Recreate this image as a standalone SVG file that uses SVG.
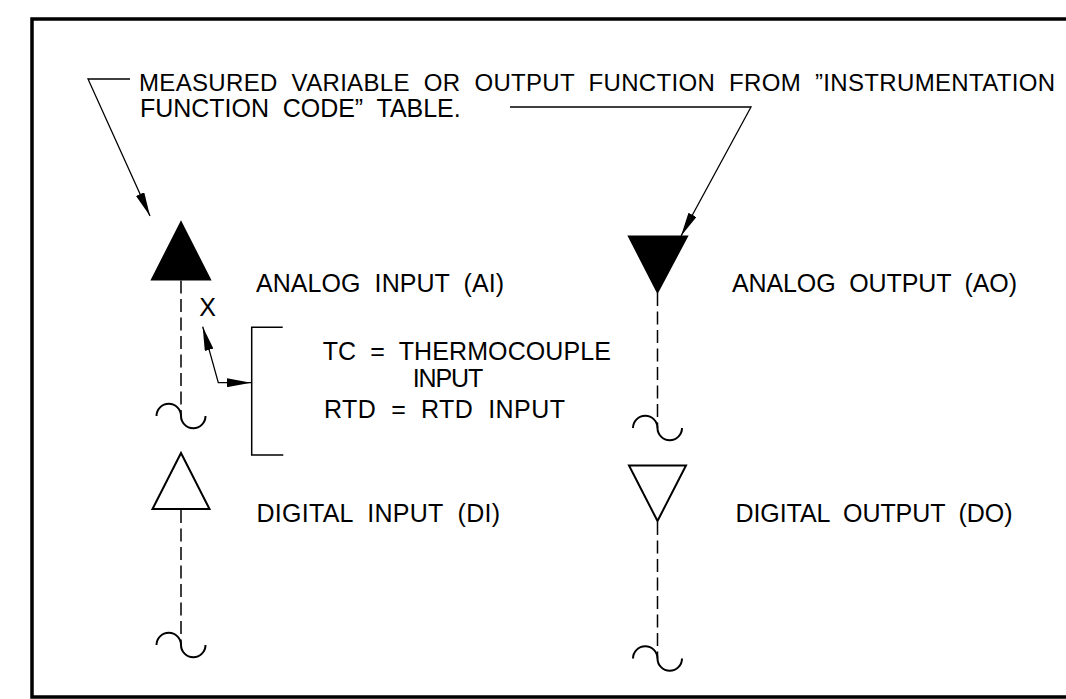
<svg xmlns="http://www.w3.org/2000/svg" width="1066" height="699" viewBox="0 0 1066 699" xml:space="preserve">
<defs>
<style>
text{font-family:"Liberation Sans",Arial,sans-serif;font-size:25px;fill:#000;white-space:pre}
.thin{fill:none;stroke:#000;stroke-width:1.3}
.sym{stroke:#000;stroke-width:2;stroke-linejoin:miter}
.solid{fill:#000}
.open{fill:none}
.dash{fill:none;stroke:#000;stroke-width:1.5;stroke-dasharray:13 5.5}
.tilde{fill:none;stroke:#000;stroke-width:2}
.brk{fill:none;stroke:#000;stroke-width:1.5}
</style>
<marker id="ah" viewBox="0 0 24 9" refX="24" refY="4.5" markerWidth="24" markerHeight="9" markerUnits="userSpaceOnUse" orient="auto-start-reverse">
<path d="M0,0 L24,4.5 L0,9 Z" fill="#000"/>
</marker>
</defs>
<rect width="1066" height="699" fill="#fff"/>
<g id="frame">
<path d="M1070,19 H32 V697 H1070" fill="none" stroke="#000" stroke-width="3.5"/>
</g>
<g id="note">
<text x="139" y="91" style="font-size:24px" textLength="916" lengthAdjust="spacing">MEASURED  VARIABLE  OR  OUTPUT  FUNCTION  FROM  ”INSTRUMENTATION</text>
<text x="140" y="117.3" textLength="320.7" lengthAdjust="spacing">FUNCTION  CODE”  TABLE.</text>
</g>
<g id="node-ai">
<polygon class="sym solid" points="181,222.5 152,279.5 210,279.5"/>
<line class="dash" x1="181" y1="280.5" x2="181" y2="416"/>
<path class="tilde" d="M156.5,416 A12.25,12.25 0 0 1 181,416 A12.25,12.25 0 0 0 205.5,416"/>
<text x="256" y="291.5" textLength="248" lengthAdjust="spacing">ANALOG  INPUT  (AI)</text>
</g>
<g id="node-ao">
<polygon class="sym solid" points="629,236.5 687,236.5 657.5,292"/>
<line class="dash" x1="657.5" y1="293" x2="657.5" y2="428"/>
<path class="tilde" d="M633,428 A12.25,12.25 0 0 1 657.5,428 A12.25,12.25 0 0 0 682,428"/>
<text x="732" y="291.5" textLength="285" lengthAdjust="spacing">ANALOG  OUTPUT  (AO)</text>
</g>
<g id="node-di">
<polygon class="sym open" points="181,453 152.5,509 209.5,509"/>
<line class="dash" x1="181" y1="510" x2="181" y2="645"/>
<path class="tilde" d="M156.5,645 A12.25,12.25 0 0 1 181,645 A12.25,12.25 0 0 0 205.5,645"/>
<text x="256.5" y="522" textLength="243.5" lengthAdjust="spacing">DIGITAL  INPUT  (DI)</text>
</g>
<g id="node-do">
<polygon class="sym open" points="629,465.5 686,465.5 657.5,521"/>
<line class="dash" x1="657.5" y1="522" x2="657.5" y2="658.5"/>
<path class="tilde" d="M633,658.5 A12.25,12.25 0 0 1 657.5,658.5 A12.25,12.25 0 0 0 682,658.5"/>
<text x="735.5" y="522" textLength="277" lengthAdjust="spacing">DIGITAL  OUTPUT  (DO)</text>
</g>
<g id="legend">
<text x="199.3" y="316">X</text>
<path class="brk" d="M282.7,327.3 H251.7 V455 H283.3"/>
<text x="322.7" y="360" textLength="288.3" lengthAdjust="spacing">TC  =  THERMOCOUPLE</text>
<text x="412.7" y="386.7" textLength="70.5" lengthAdjust="spacing">INPUT</text>
<text x="324" y="418.3" textLength="241" lengthAdjust="spacing">RTD  =  RTD  INPUT</text>
</g>
<g id="connectors">
<path class="thin" d="M130,79 H88 L150,216" marker-end="url(#ah)"/>
<path class="thin" d="M510,107 H751 L681,236" marker-end="url(#ah)"/>
<path class="thin" d="M202.7,326.7 L218.3,382.7 L251,382.7" marker-start="url(#ah)" marker-end="url(#ah)"/>
</g>
</svg>
